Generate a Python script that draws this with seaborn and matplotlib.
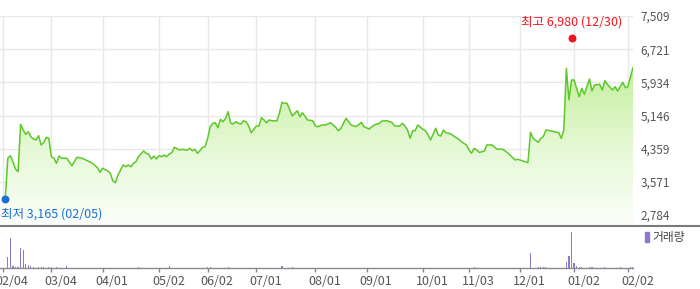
import numpy as np
import pandas as pd
import matplotlib
matplotlib.use("Agg")
import matplotlib.pyplot as plt
import matplotlib.transforms as mtransforms
import seaborn as sns
from matplotlib.lines import Line2D
from matplotlib.patches import Patch
from matplotlib.colors import LinearSegmentedColormap

# ---------------- data (x = trading-day number since 2025-02-04) ----------------
day_idx = [0, 1, 2, 3, 4, 5, 6, 7, 8, 9, 10, 11, 12, 13, 14, 15, 16, 17, 18, 19, 20, 21, 22, 23,
           25, 27, 29, 31, 33, 35, 37, 38, 39, 41, 42, 43, 44, 45, 47, 48, 49, 50, 51, 52, 53,
           55, 56, 57, 58, 59, 60, 61, 62, 63, 64, 65, 66, 67, 69, 70, 72, 73, 74, 75, 76, 77,
           78, 79, 80, 81, 82, 83, 84, 85, 86, 87, 88, 89, 90, 91, 92, 93, 94, 95, 96, 97, 99,
           100, 101, 102, 103, 104, 105, 107, 108, 109, 110, 111, 113, 114, 115, 116, 117, 119,
           121, 122, 123, 125, 126, 128, 130, 131, 132, 134, 136, 138, 140, 141, 143, 145, 147,
           148, 150, 152, 153, 155, 156, 157, 158, 159, 160, 161, 162, 164, 165, 166, 167, 169,
           170, 171, 172, 173, 175, 176, 178, 179, 180, 181, 182, 183, 184, 185, 186, 188, 189,
           191, 193, 195, 197, 198, 200, 201, 203, 205, 206, 207, 209, 210, 211, 212, 214, 217,
           218, 219, 220, 221, 222, 223, 225, 226, 227, 229, 230, 231, 233, 234, 235, 236, 238,
           239, 240, 242, 243, 244, 246]
close = [3205, 3181, 4131, 4192, 4050, 3877, 3813, 4938, 4803, 4700, 4762, 4644, 4589, 4565, 4667,
         4447, 4501, 4629, 4606, 4169, 4131, 4012, 4185, 4131,
         4131, 3955, 4154, 4131, 4074, 4012, 3908, 3798, 3894, 3829, 3775, 3592, 3552, 3734, 3972,
         3931, 3972, 3931, 4012, 4050, 4169,
         4304, 4249, 4226, 4114, 4185, 4114, 4192, 4169, 4209, 4169, 4233, 4264, 4392, 4328, 4345,
         4321, 4368, 4311, 4345, 4249, 4311,
         4392, 4406, 4606, 4881, 4962, 4976, 4857, 5057, 5000, 5080, 5237, 4962, 4945, 5000, 4962,
         4945, 5023, 5000, 4898, 4738, 4898,
         4898, 5095, 5040, 4976, 5040, 5023, 5016, 5199, 5460, 5436, 5436, 5135, 5199, 5261, 5118,
         5213, 5040,
         5023, 4898, 4881, 4929, 4921, 4976, 4866, 4786, 4843, 5080, 4921, 4881, 4985, 4881, 4826,
         4921, 4961,
         5016, 5023, 4976, 4898, 4898, 4961, 4898, 4803, 4606, 4786, 4786, 4921, 4819, 4786, 4684,
         4565, 4843,
         4684, 4660, 4803, 4738, 4708, 4660, 4581, 4525, 4487, 4447, 4328, 4249, 4368, 4328, 4268,
         4304, 4447,
         4447, 4344, 4351, 4264, 4209, 4090, 4107, 4067, 4027, 4748, 4606, 4510, 4606, 4644, 4803,
         4779, 4739,
         4606, 4803, 6267, 5515, 5990, 5990, 5593, 5793, 5650, 6013, 5728, 5871, 5887, 5752, 5973,
         5887, 5752,
         5831, 5728, 5935, 5807, 5831, 6291]

vol_idx = [2, 3, 4, 5, 6, 7, 8, 9, 10, 11, 12, 14, 15, 16, 18, 19, 21, 25, 53, 65, 80, 81, 88,
           109, 113, 184, 206, 209, 210, 211, 212, 220, 221, 222, 223, 224, 225, 226, 229, 230,
           235, 241, 245, 246]
volume = [1100, 3070, 270, 100, 130, 2070, 1830, 430, 330, 230, 130, 130, 130, 130, 170, 130,
          130, 230, 130, 230, 170, 130, 130, 230, 130, 130, 1570, 100, 100, 100, 130, 670, 1270,
          3670, 570, 200, 130, 130, 100, 100, 100, 100, 130, 100]

tick_idx = [0, 19, 39, 61, 80, 99, 122, 142, 164, 182, 202, 223, 244]
tick_labels = ["02/04", "03/04", "04/01", "05/02", "06/02", "07/01", "08/01",
               "09/01", "10/01", "11/03", "12/01", "01/02", "02/02"]
y_ticks = [2784, 3571, 4359, 5146, 5934, 6721, 7509]

low_idx, low_val, low_label = 1, 3165, "최저 3,165 (02/05)"
high_idx, high_val, high_label = 222, 6980, "최고 6,980 (12/30)"
vol_label = "거래량"

# ---------------- style ----------------
sns.set_theme(style="white")
plt.rcParams['font.family'] = ['Noto Sans CJK KR', 'DejaVu Sans']

W, H = 700, 289
fig = plt.figure(figsize=(W / 100, H / 100), dpi=100)
fig.patch.set_facecolor("white")

ax = fig.add_axes([0, 1 - 225 / H, 633 / W, (225 - 16) / H])
axv = fig.add_axes([0, 1 - 268.3 / H, 633 / W, (268.3 - 226) / H], sharex=ax)

XMIN, XMAX = -1.05, 246.0
YMIN, YMAX = 2547, 7509

df = pd.DataFrame({"day": day_idx, "close": close})

# gradient area
poly = ax.fill_between(df["day"], df["close"], YMIN, color="none", lw=0)
grad = np.linspace(0, 1, 256).reshape(-1, 1)
cmap = LinearSegmentedColormap.from_list("g", ["#fbfef9", "#e4f8d3", "#c2ee9a"])
im = ax.imshow(grad, aspect="auto", cmap=cmap, origin="lower",
               extent=[XMIN, XMAX, YMIN, 6400], zorder=1)
im.set_clip_path(poly.get_paths()[0], transform=ax.transData)

sns.lineplot(data=df, x="day", y="close", ax=ax, color="#5cc82a", lw=1.1, zorder=3)

ax.set_xlim(XMIN, XMAX)
ax.set_ylim(YMIN, YMAX)
ax.set_xticks(tick_idx)
ax.tick_params(axis="x", length=0, labelbottom=False)
ax.set_yticks(y_ticks)
ax.set_yticklabels([f"{v:,}" for v in y_ticks])
ax.yaxis.tick_right()
ax.tick_params(axis="y", length=0, pad=5.5, labelsize=8.5, colors="#555555")
ax.grid(True, color="#e8e8e8", lw=1)
ax.set_axisbelow(True)
ax.set_xlabel("")
ax.set_ylabel("")
for s in ax.spines.values():
    s.set_visible(False)

# low / high markers
ax.scatter([low_idx], [low_val], s=22, color="#1a6fd6", zorder=5, clip_on=False)
ax.annotate(low_label, xy=(low_idx, low_val), xytext=(-4, -15), textcoords="offset pixels",
            ha="left", va="center", fontsize=9, color="#1a6fd6")
ax.scatter([high_idx], [high_val], s=22, color="#f0141e", zorder=5, clip_on=False)
ax.annotate(high_label, xy=(high_idx, high_val), xytext=(0, 16), textcoords="offset pixels",
            ha="center", va="center", fontsize=9, color="#f0141e")

# volume
axv.bar(vol_idx, volume, width=0.45, color="#8f78cc", lw=0)
axv.set_ylim(0, 4230)
axv.set_xlim(XMIN, XMAX)
axv.set_yticks([])
axv.set_xticks(tick_idx)
axv.set_xticklabels(tick_labels)
axv.tick_params(axis="x", length=3, width=1, color="#888888", labelsize=9,
                labelcolor="#555555", pad=1.5, direction="out", bottom=True)
shift = mtransforms.ScaledTranslation(9.5 / 100, 0, fig.dpi_scale_trans)
for lab in axv.get_xticklabels():
    lab.set_transform(lab.get_transform() + shift)
for k, s in axv.spines.items():
    s.set_visible(k == "bottom")
axv.spines["bottom"].set_color("#8a8a8a")
axv.spines["bottom"].set_linewidth(1)
axv.patch.set_alpha(0)

axv.legend(handles=[Patch(color="#8f78cc")], labels=[vol_label], loc="upper right",
           bbox_to_anchor=(685 / W, 1 - 231 / H), bbox_transform=fig.transFigure,
           frameon=False, fontsize=8.5, handlelength=0.3, handleheight=1.0,
           handletextpad=0.3, borderaxespad=0, borderpad=0, labelcolor="#444444")

# separator line across full width
fig.add_artist(Line2D([0, 1], [1 - 225.5 / H, 1 - 225.5 / H], transform=fig.transFigure,
                      color="#7a7a7a", lw=1.5))

fig.savefig("out.png", dpi=100)
